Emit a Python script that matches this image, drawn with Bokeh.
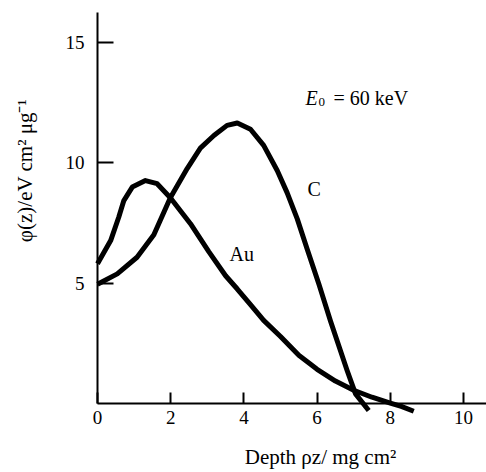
import math
from bokeh.plotting import figure
from bokeh.models import Range1d, Label, FixedTicker
from bokeh.embed import file_html
from bokeh.resources import INLINE

# Data
au_x = [0.0, 0.36, 0.58, 0.72, 0.95, 1.31, 1.63, 1.99, 2.54, 3.04, 3.5, 3.82, 4.18, 4.54, 5.0, 5.5,
        6.0, 6.5, 7.0, 7.5, 8.0, 8.3, 8.64]
au_y = [5.8, 6.76, 7.73, 8.42, 8.98, 9.25, 9.12, 8.54, 7.46, 6.3, 5.3, 4.75, 4.1, 3.45, 2.78, 2.0,
        1.42, 0.93, 0.55, 0.26, 0.02, -0.12, -0.32]

c_x = [0.0, 0.54, 1.08, 1.54, 1.99, 2.45, 2.81, 3.18, 3.54, 3.82, 4.18, 4.54, 4.91, 5.18, 5.46,
       5.73, 6.05, 6.37, 6.82, 7.05, 7.41]
c_y = [4.95, 5.38, 6.07, 7.0, 8.54, 9.75, 10.6, 11.12, 11.54, 11.64, 11.38, 10.71, 9.67, 8.75, 7.65,
       6.4, 4.95, 3.4, 1.37, 0.4, -0.29]

x_ticks = [0, 2, 4, 6, 8, 10]
y_ticks = [5, 10, 15]

FONT = "Liberation Serif"

p = figure(width=486, height=472,
           x_range=Range1d(-2.650, 10.628), y_range=Range1d(-2.863, 16.722),
           output_backend="svg", toolbar_location=None,
           min_border_left=0, min_border_right=0,
           min_border_top=0, min_border_bottom=0)

p.outline_line_color = None
p.xgrid.grid_line_color = None
p.ygrid.grid_line_color = None
p.background_fill_color = "white"
p.border_fill_color = "white"

p.line(au_x, au_y, line_width=5, color="black", line_cap="butt", line_join="round")
p.line(c_x, c_y, line_width=5, color="black", line_cap="butt", line_join="round")

# axes drawn at the data origin, limited to the drawn extent
p.xaxis.fixed_location = 0
p.yaxis.fixed_location = 0
p.xaxis.bounds = (0, 10.628)
p.yaxis.bounds = (0, 16.22)
p.xaxis.ticker = FixedTicker(ticks=x_ticks)
p.yaxis.ticker = FixedTicker(ticks=y_ticks)
for ax in (p.xaxis[0], p.yaxis[0]):
    ax.axis_line_width = 2
    ax.axis_line_color = "black"
    ax.major_tick_line_width = 2
    ax.major_tick_line_color = "black"
    ax.minor_tick_line_color = None
    ax.major_tick_out = 0
    ax.major_label_text_font = FONT
    ax.major_label_text_font_size = "19px"
    ax.major_label_text_color = "black"
p.xaxis.major_tick_in = 11
p.yaxis.major_tick_in = 16
p.xaxis.major_label_standoff = 7
p.yaxis.major_label_standoff = 13

# annotations
def lab(x, y, text, size="20px", style="normal", **kw):
    p.add_layout(Label(x=x, y=y, text=text, text_font=FONT, text_font_size=size,
                       text_font_style=style, text_color="black", **kw))

lab(5.683, 12.656, "E", style="italic", text_baseline="alphabetic")
lab(5.683, 12.656, "0", size="13px", x_offset=13, y_offset=-4, text_baseline="alphabetic")
lab(5.683, 12.656, "= 60 keV", x_offset=28, text_baseline="alphabetic")
lab(5.738, 8.921, "C", text_baseline="alphabetic")
lab(3.607, 6.224, "Au", text_baseline="alphabetic")

lab(-1.967, 9.668, "\u03c6(z)/eV cm\u00b2 \u03bcg\u207b\u00b9", size="21px", angle=math.pi / 2,
    text_align="center", text_baseline="middle")
lab(6.093, -2.24, "Depth \u03c1z/ mg cm\u00b2", size="21px", text_align="center",
    text_baseline="alphabetic")

open("out.html", "w").write(file_html(p, INLINE))
